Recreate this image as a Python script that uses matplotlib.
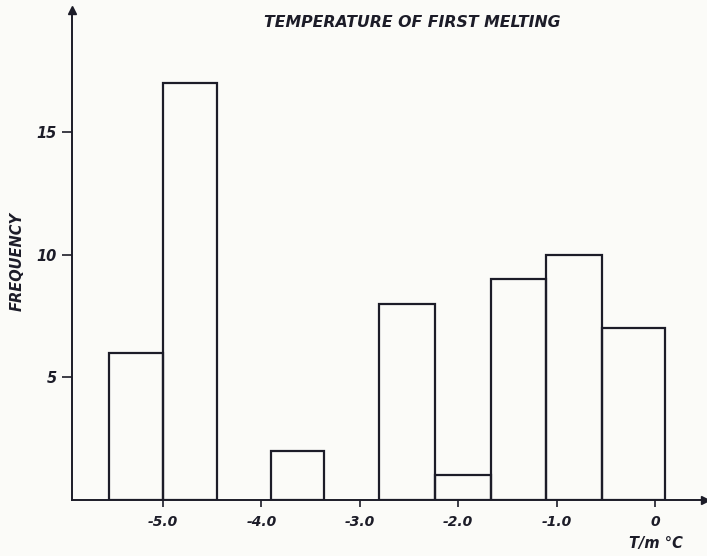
import numpy as np
import matplotlib.pyplot as plt

# histogram bins (deg C) and their counts
bin_left = [-55.5, -50.0, -39.0, -28.0, -22.4, -16.7, -11.1, -5.4]
bin_right = [-50.0, -44.5, -33.6, -22.4, -16.7, -11.1, -5.4, 1.0]
counts = [6, 17, 2, 8, 1, 9, 10, 7]

x_ticks = [-50, -40, -30, -20, -10, 0]
x_labels = ["-5.0", "-4.0", "-3.0", "-2.0", "-1.0", "0"]
y_ticks = [5, 10, 15]

ink = "#1c1c28"
paper = "#fbfbf8"
font = dict(family="DejaVu Sans", weight="bold", style="italic", color=ink)

fig = plt.figure(figsize=(7.07, 5.56), dpi=100, facecolor=paper)
ax = fig.add_axes([0.102, 0.101, 0.895, 0.881], facecolor=paper)

left = np.array(bin_left)
widths = np.array(bin_right) - left
ax.bar(left, counts, width=widths, align="edge", fill=False,
       edgecolor=ink, linewidth=1.6)

ax.set_xlim(-59.25, 5.08)
ax.set_ylim(0, 20)

for side in ["top", "right"]:
    ax.spines[side].set_visible(False)
for side in ["left", "bottom"]:
    ax.spines[side].set_color(ink)
    ax.spines[side].set_linewidth(1.4)

# arrow heads at the axis ends
ax.plot(1, 0, ">", color=ink, markersize=6, transform=ax.transAxes, clip_on=False)
ax.plot(0, 1, "^", color=ink, markersize=6, transform=ax.transAxes, clip_on=False)

ax.set_xticks(x_ticks)
ax.set_xticklabels(x_labels, fontdict=dict(size=10, **font))
ax.set_yticks(y_ticks)
ax.set_yticklabels([str(t) for t in y_ticks], fontdict=dict(size=10.5, **font))
ax.tick_params(axis="x", colors=ink, width=1.2, length=5, pad=6)
ax.tick_params(axis="y", colors=ink, width=1.2, length=7, pad=4)

fig.text(0.583, 0.960, "TEMPERATURE OF FIRST MELTING", ha="center", va="center",
         size=11.3, **font)
fig.text(0.024, 0.53, "FREQUENCY", ha="center", va="center", rotation=90,
         size=10.5, **font)
fig.text(0.928, 0.023, "T/m °C", ha="center", va="center", size=10.5, **font)

fig.savefig("out.png", dpi=100, facecolor=paper)
